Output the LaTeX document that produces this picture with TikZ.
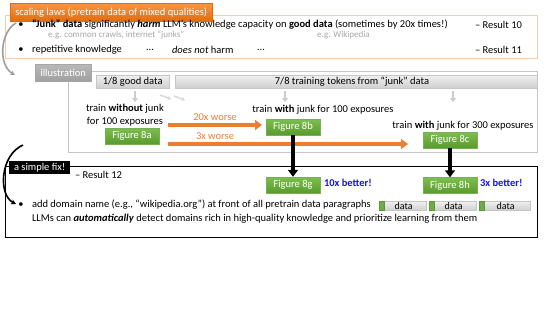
\documentclass[tikz,border=0pt]{standalone}
\usepackage{fontspec}
\setmainfont{Carlito}
\usetikzlibrary{arrows.meta,calc}
\definecolor{ttlA}{HTML}{F79646}
\definecolor{ttlB}{HTML}{E36C09}
\definecolor{frameor}{HTML}{F8CBAD}
\definecolor{figA}{HTML}{7DBF4E}
\definecolor{figB}{HTML}{5A9A2E}
\definecolor{orarr}{HTML}{ED7D31}
\definecolor{egray}{HTML}{A6A6A6}
\definecolor{bluetxt}{HTML}{1414E6}
\begin{document}
\begin{tikzpicture}[x=1pt,y=-1pt,
  every node/.style={font=\fontsize{10.5}{12}\selectfont},
  txt/.style={inner sep=0pt, outer sep=0pt},
  small/.style={inner sep=0pt, font=\fontsize{9}{11}\selectfont, text=egray},
  figbox/.style={top color=figA, bottom color=figB, draw=figB!80!white, text=white, minimum width=54pt, minimum height=16pt, inner sep=0pt},
  barbox/.style={top color=gray!12, bottom color=gray!38, draw=gray!45, inner sep=0pt},
  greenbar/.style={fill=figB!85!white, draw=figB, minimum width=5pt, minimum height=9pt, inner sep=0pt},
  databox/.style={top color=gray!12, bottom color=gray!38, draw=gray!45, minimum height=9pt, inner sep=0pt, font=\fontsize{10}{11}\selectfont},
  grayarr/.style={draw=gray!40, line width=2pt, -{Triangle[width=6pt,length=4pt]}},
  orangearr/.style={draw=orarr, line width=4pt, -{Triangle[width=10pt,length=7pt]}},
  blackarr/.style={draw=black, line width=3.2pt, -{Triangle[width=10pt,length=7pt]}}
]
\useasboundingbox (0,0) rectangle (558,314);

% ---------- top frame ----------
\draw[frameor, line width=0.8pt] (5,15) rectangle (537,58);
\node[top color=ttlA, bottom color=ttlB, draw=ttlB, text=white, inner sep=0pt,
      minimum width=202pt, minimum height=18pt, anchor=north west,
      font=\fontsize{10.5}{12}\selectfont] (title) at (10,3)
      {scaling laws (pretrain data of mixed qualities)};

\node[txt] (bul1) at (21,25) {\textbullet};
\node[txt, anchor=west] (line1) at (32,25) {\textbf{“Junk” data} significantly \textbf{\textit{harm}} LLM’s knowledge capacity on \textbf{good data} (sometimes by 20x times!)};
\node[small, anchor=west] (eg1) at (48,35) {e.g. common crawls, internet “junks”};
\node[small, anchor=west] (eg2) at (317,35) {e.g. Wikipedia};
\node[txt, anchor=west] (res10) at (475,25) {– Result 10};

\node[txt] (bul2) at (21,50) {\textbullet};
\node[txt, anchor=west] (line2) at (32,50) {repetitive knowledge};
\node[txt] (dots1) at (150,50) {…};
\node[txt, anchor=west] (dnh) at (172,50) {\textit{does not} harm};
\node[txt] (dots2) at (261,50) {…};
\node[txt, anchor=west] (res11) at (475,50) {– Result 11};

% gray curved arrow
\coordinate (gc1) at (16,23);
\coordinate (gc2) at (15,75);
\draw[gray!75, line width=1.6pt, -{Stealth[length=5pt,width=5pt]}] (gc1) .. controls (0,32) and (-2,65) .. (gc2);

% ---------- illustration frame ----------
\draw[gray!45, line width=0.8pt] (68,71) rectangle (537,152);
\node[top color=gray!55, bottom color=gray!75, draw=gray!70, text=white, inner sep=0pt,
      minimum width=56pt, minimum height=17pt, anchor=north west] (illu) at (35,64) {illustration};

\node[barbox, minimum width=73pt, minimum height=13pt, anchor=north west] (good) at (96,75) {1/8 good data};
\node[barbox, minimum width=362pt, minimum height=13pt, anchor=north west] (junk) at (175,75) {};
\node[txt] (junktxt) at (352,81.5) {7/8 training tokens from “junk” data};

\coordinate (ga1) at (135,91); \coordinate (gb1) at (135,102);
\coordinate (ga2) at (285,91); \coordinate (gb2) at (285,102);
\coordinate (ga3) at (453,91); \coordinate (gb3) at (453,102);
\draw[grayarr] (ga1) -- (gb1);
\draw[grayarr] (ga2) -- (gb2);
\draw[grayarr] (ga3) -- (gb3);
\coordinate (fd1) at (160,95); \coordinate (fd2) at (171,99);
\coordinate (fd3) at (174,96); \coordinate (fd4) at (185,100);
\draw[gray!30, line width=1.5pt, -{Triangle[width=4pt,length=3pt]}] (fd1) -- (fd2);
\draw[gray!30, line width=1.5pt, -{Triangle[width=4pt,length=3pt]}] (fd3) -- (fd4);

\node[txt] (t8a1) at (125,109) {train \textbf{without} junk};
\node[txt] (t8a2) at (125,122) {for 100 exposures};
\node[figbox] (f8a) at (132,136) {Figure 8a};

\node[txt] (t8b) at (323,110) {train \textbf{with} junk for 100 exposures};
\node[figbox] (f8b) at (293,127) {Figure 8b};

\node[txt] (t8c) at (463,126) {train \textbf{with} junk for 300 exposures};
\node[figbox] (f8c) at (450,140) {Figure 8c};

\coordinate (oa1) at (168,125); \coordinate (ob1) at (262,125);
\draw[orangearr] (oa1) -- (ob1);
\node[txt, text=orarr] (w20) at (215,117.5) {20x worse};
\coordinate (oa2) at (168,144); \coordinate (ob2) at (408,144);
\draw[orangearr] (oa2) -- (ob2);
\node[txt, text=orarr] (w3) at (215,136.5) {3x worse};

% ---------- simple fix frame ----------
\draw[black, line width=0.6pt] (5,166) rectangle (537,237);
\node[fill=black, text=white, inner sep=0pt, minimum width=61pt, minimum height=13pt, anchor=north west] (fix) at (9,161) {a simple fix!};
\node[txt, anchor=west] (res12) at (75,175) {– Result 12};

\node[figbox] (f8g) at (293,185) {Figure 8g};
\node[figbox] (f8h) at (450,185.5) {Figure 8h};
\node[txt, anchor=west, text=bluetxt] (b10) at (324,183) {\textbf{10x better!}};
\node[txt, anchor=west, text=bluetxt] (b3) at (480,183) {\textbf{3x better!}};

\draw[blackarr] (f8b.south) -- (f8g.north);
\draw[blackarr] (f8c.south) -- (f8h.north);

\node[txt] (bul3) at (21,205) {\textbullet};
\node[txt, anchor=west] (line3) at (32,205) {add domain name (e.g., “wikipedia.org”) at front of all pretrain data paragraphs};
\node[txt, anchor=west] (line4) at (32,218.5) {LLMs can \textbf{\textit{automatically}} detect domains rich in high-quality knowledge and prioritize learning from them};

\node[databox, minimum width=45pt, anchor=west] (d1) at (381,206) {data};
\node[greenbar] (g1) at (381.5,206) {};
\node[databox, minimum width=45pt, anchor=west] (d2) at (431,206) {data};
\node[greenbar] (g2) at (431.5,206) {};
\node[databox, minimum width=49pt, anchor=west] (d3) at (481,206) {data};
\node[greenbar] (g3) at (481.5,206) {};

% black curved arrow
\coordinate (bc1) at (23,145);
\coordinate (bc2) at (16,204);
\draw[black, line width=1.6pt, -{Stealth[length=5pt,width=5pt]}] (bc1) .. controls (0,155) and (-2,195) .. (bc2);
\end{tikzpicture}
\end{document}
